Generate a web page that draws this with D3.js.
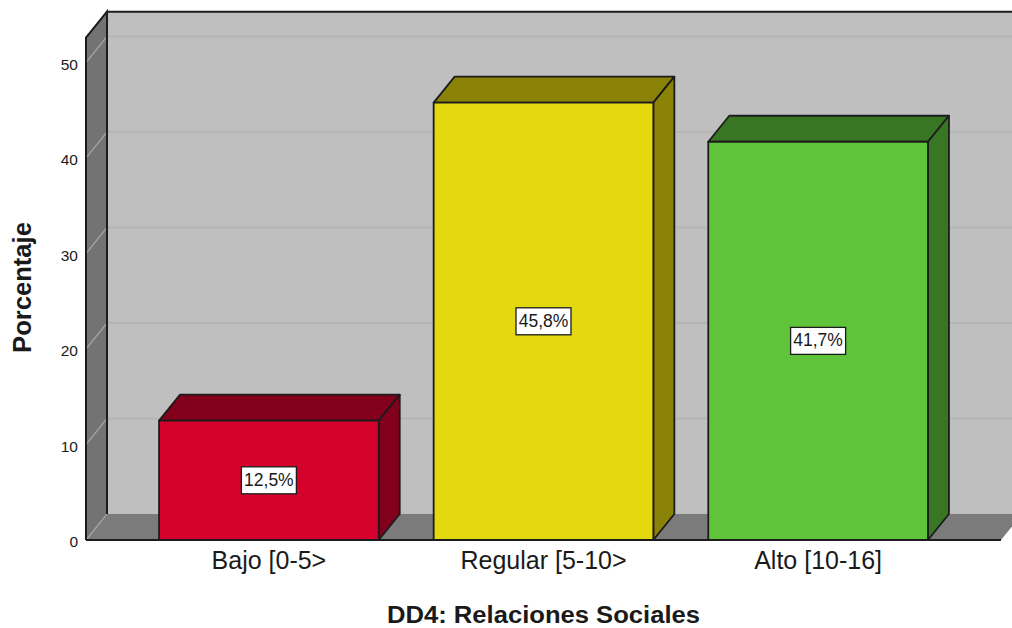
<!DOCTYPE html>
<html>
<head>
<meta charset="utf-8">
<script src="https://cdn.jsdelivr.net/npm/d3@7"></script>
<style>
html,body{margin:0;padding:0;background:#fff;overflow:hidden}
text{font-family:"Liberation Sans",Arial,sans-serif;fill:#1a1a1a}
</style>
</head>
<body>
<svg id="chart" width="1012" height="628"></svg>
<script>
// Percentage of respondents per level of the DD4 dimension
const categories = ["Bajo [0-5>", "Regular [5-10>", "Alto [10-16]"];
const percentages = [12.5, 45.8, 41.7];
const valueLabels = ["12,5%", "45,8%", "41,7%"];
const yTicks = [0, 10, 20, 30, 40, 50];
const frontColors = ["#d5002c", "#e4d80e", "#5fc439"];
const sideColors = ["#82001b", "#8b8208", "#387623"];
const xTitle = "DD4: Relaciones Sociales";
const yTitle = "Porcentaje";

const W = 1012, H = 628;
const left = 86, right = 1001, baseY = 540;
const depthX = 21, depthY = 26;   // oblique offset of the 3D box
const yMax = 52.6;
const ink = "#1c1c1c";

const y = d3.scaleLinear().domain([0, yMax]).range([baseY, baseY - yMax * 9.55]);
const x = d3.scaleBand().domain(categories).range([left, right])
  .paddingInner(0.2).paddingOuter(0.266);

const svg = d3.select("#chart");
const poly = pts => pts.map(p => p.join(",")).join(" ");
const topY = y(yMax);

// Back wall, side wall and floor of the box
svg.append("polygon").attr("points", poly([[left+depthX,topY-depthY],[W+30,topY-depthY],[W+30,baseY-depthY],[left+depthX,baseY-depthY]]))
  .attr("fill", "#bfbfbf");
svg.append("polygon").attr("points", poly([[left,topY],[left+depthX,topY-depthY],[left+depthX,baseY-depthY],[left,baseY]]))
  .attr("fill", "#737373");
svg.append("polygon").attr("points", poly([[left,baseY],[left+depthX,baseY-depthY],[right+depthX,baseY-depthY],[right,baseY]]))
  .attr("fill", "#7b7b7b");

// Gridlines run along the side wall and then across the back wall
const grid = svg.append("g");
yTicks.forEach(t => {
  grid.append("line").attr("x1", left).attr("y1", y(t)).attr("x2", left+depthX).attr("y2", y(t)-depthY)
    .attr("stroke", "#a3a3a3").attr("stroke-width", 1.2);
  if (t > 0) grid.append("line").attr("x1", left+depthX).attr("y1", y(t)-depthY).attr("x2", W+30).attr("y2", y(t)-depthY)
    .attr("stroke", "#b5b5b5").attr("stroke-width", 2);
});

// Box outline
svg.append("polyline").attr("fill", "none").attr("stroke", ink).attr("stroke-width", 2)
  .attr("points", poly([[left,baseY],[left,topY],[left+depthX,topY-depthY],[left+depthX,baseY-depthY]]));
svg.append("line").attr("x1", left+depthX).attr("y1", topY-depthY).attr("x2", W+30).attr("y2", topY-depthY)
  .attr("stroke", ink).attr("stroke-width", 2);
svg.append("line").attr("x1", left).attr("y1", baseY).attr("x2", right).attr("y2", baseY)
  .attr("stroke", ink).attr("stroke-width", 2);

// Bars: front face plus top and side faces
const bars = svg.selectAll("g.bar").data(categories).join("g").attr("class", "bar");
bars.each(function(c, i) {
  const g = d3.select(this);
  const x0 = x(c), x1 = x0 + x.bandwidth(), yv = y(percentages[i]);
  const faces = [
    {pts: [[x0,yv],[x0+depthX,yv-depthY],[x1+depthX,yv-depthY],[x1,yv]], fill: sideColors[i]},
    {pts: [[x1,yv],[x1+depthX,yv-depthY],[x1+depthX,baseY-depthY],[x1,baseY]], fill: sideColors[i]},
    {pts: [[x0,yv],[x1,yv],[x1,baseY],[x0,baseY]], fill: frontColors[i]}
  ];
  faces.forEach(f => g.append("polygon").attr("points", poly(f.pts))
    .attr("fill", f.fill).attr("stroke", ink).attr("stroke-width", 1.8).attr("stroke-linejoin", "round"));

  // Value label in a white box at the middle of the bar
  const cx = (x0 + x1) / 2, cy = (yv + baseY) / 2;
  g.append("rect").attr("x", cx - 27.5).attr("y", cy - 13.5).attr("width", 55).attr("height", 27)
    .attr("fill", "#fff").attr("stroke", ink).attr("stroke-width", 1.3);
  g.append("text").attr("x", cx).attr("y", cy + 5.5).attr("text-anchor", "middle")
    .attr("font-size", 17.5).text(valueLabels[i]);
});

// Y axis labels, built with the D3 axis and stripped of its own line and ticks
const yAxis = svg.append("g").attr("transform", `translate(${left},0)`)
  .call(d3.axisLeft(y).tickValues(yTicks).tickSize(0).tickPadding(8));
yAxis.select(".domain").remove();
yAxis.selectAll("text").attr("font-size", 15.5).attr("dy", "0.42em").style("font-family", '"Liberation Sans",Arial,sans-serif').attr("fill", "#1a1a1a");

// Category labels
const xAxis = svg.append("g").attr("transform", `translate(0,${baseY})`)
  .call(d3.axisBottom(x).tickSize(0).tickPadding(11));
xAxis.select(".domain").remove();
xAxis.selectAll("text").attr("font-size", 25).style("font-family", '"Liberation Sans",Arial,sans-serif').attr("fill", "#2a2a2a");

// Axis titles; the horizontal one is set wide to its full run
svg.append("text").attr("x", 543.5).attr("y", 623).attr("text-anchor", "middle")
  .attr("font-size", 23).attr("font-weight", "bold")
  .attr("textLength", 313).attr("lengthAdjust", "spacingAndGlyphs").text(xTitle);
svg.append("text").attr("transform", "translate(31,287.5) rotate(-90)").attr("text-anchor", "middle")
  .attr("font-size", 25.6).attr("font-weight", "bold").text(yTitle);
</script>
</body>
</html>
